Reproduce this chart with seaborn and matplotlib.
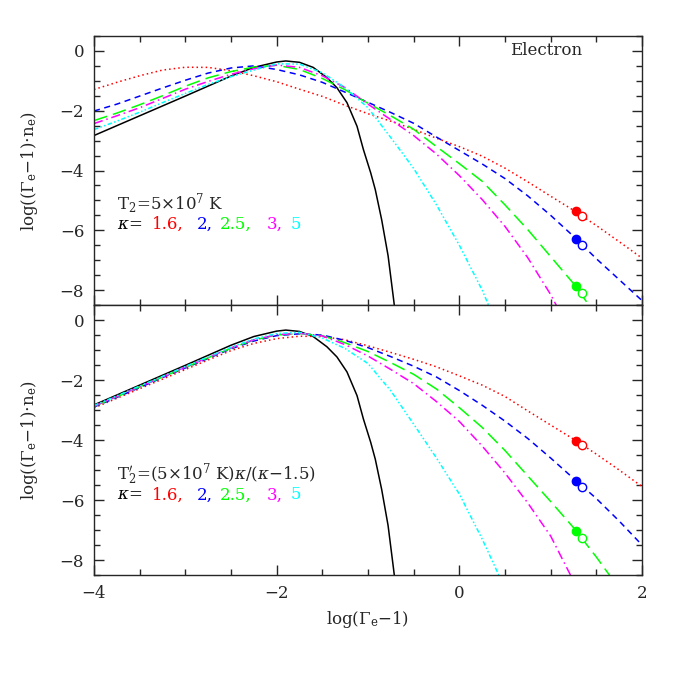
import matplotlib
matplotlib.use('Agg')
import matplotlib.pyplot as plt
import numpy as np
import pandas as pd
import seaborn as sns
from matplotlib.ticker import MultipleLocator

# x grid shared by the kappa curves (log(Gamma_e - 1))
grid_x = [-4, -3.75, -3.5, -3.25, -3, -2.75, -2.5, -2.25, -2, -1.75, -1.5, -1.25,
          -1, -0.75, -0.5, -0.25, 0, 0.25, 0.5, 0.75, 1, 1.25, 1.5, 1.75, 2]

# Maxwellian (same in both panels)
maxw_x = [-4, -3.5, -3, -2.5, -2.25, -2, -1.9, -1.75, -1.6, -1.45, -1.34, -1.23,
          -1.12, -1.05, -0.97, -0.92, -0.85, -0.78, -0.72, -0.68]
maxw_y = [-2.83, -2.17, -1.51, -0.84, -0.55, -0.37, -0.335, -0.38, -0.55, -0.89, -1.23, -1.73,
          -2.52, -3.3, -4.08, -4.64, -5.65, -6.85, -8.3, -9.3]

# top panel: T2 = 5e7 K
top_red = [-1.29, -1.05, -0.83, -0.64, -0.545, -0.55, -0.66, -0.83, -1.03, -1.28, -1.52, -1.82,
           -2.1, -2.35, -2.62, -2.92, -3.2, -3.52, -3.92, -4.38, -4.86, -5.33, -5.84, -6.38, -6.93]
top_blue = [-2.01, -1.78, -1.51, -1.24, -0.98, -0.74, -0.57, -0.5, -0.62, -0.8, -1.05, -1.38,
            -1.72, -2.06, -2.42, -2.88, -3.33, -3.78, -4.27, -4.85, -5.5, -6.2, -6.95, -7.65, -8.35]
top_green = [-2.33, -2.08, -1.8, -1.5, -1.18, -0.9, -0.69, -0.54, -0.48, -0.62, -0.92, -1.3,
             -1.75, -2.17, -2.62, -3.2, -3.77, -4.36, -5.15, -5.98, -6.88, -7.78, -8.85]
top_magenta = [-2.43, -2.17, -1.9, -1.59, -1.28, -1.02, -0.78, -0.6, -0.47, -0.55, -0.83, -1.23,
               -1.78, -2.3, -2.83, -3.45, -4.17, -4.97, -5.87, -6.92, -8.15, -9.6]
top_cyan = [-2.63, -2.35, -2.05, -1.73, -1.42, -1.12, -0.86, -0.64, -0.43, -0.44, -0.73, -1.23,
            -1.9, -2.9, -3.93, -5.15, -6.5, -8.0, -9.8]

# bottom panel: T2' = (5e7 K) kappa/(kappa-1.5)
bot_red = [-2.93, -2.61, -2.29, -1.97, -1.65, -1.33, -1.02, -0.78, -0.62, -0.54, -0.55, -0.66,
           -0.86, -1.08, -1.31, -1.56, -1.86, -2.17, -2.55, -3.03, -3.5, -3.97, -4.47, -5.0, -5.55]
bot_blue = [-2.9, -2.58, -2.25, -1.92, -1.6, -1.28, -0.96, -0.7, -0.52, -0.46, -0.5, -0.68,
            -0.92, -1.22, -1.54, -1.9, -2.35, -2.84, -3.37, -3.95, -4.6, -5.28, -5.95, -6.7, -7.5]
bot_green = [-2.88, -2.56, -2.23, -1.9, -1.58, -1.26, -0.94, -0.67, -0.5, -0.45, -0.52, -0.76,
             -1.05, -1.42, -1.81, -2.3, -2.92, -3.58, -4.35, -5.2, -6.05, -6.92, -7.9, -8.95]
bot_magenta = [-2.87, -2.55, -2.22, -1.9, -1.57, -1.25, -0.93, -0.66, -0.49, -0.44, -0.53, -0.82,
               -1.2, -1.65, -2.12, -2.72, -3.38, -4.2, -5.1, -6.1, -7.2, -8.7]
bot_cyan = [-2.85, -2.53, -2.2, -1.88, -1.55, -1.23, -0.91, -0.63, -0.45, -0.41, -0.6, -0.95,
            -1.45, -2.36, -3.47, -4.6, -5.8, -7.3, -8.95]

# marked points on kappa = 1.6, 2, 2.5 (filled and open)
dot_x_filled = 1.275
dot_x_open = 1.338
top_dots_filled = [-5.37, -6.29, -7.86]
top_dots_open = [-5.51, -6.48, -8.11]
bot_dots_filled = [-4.02, -5.36, -7.02]
bot_dots_open = [-4.18, -5.55, -7.26]

kappas = ['1.6', '2', '2.5', '3', '5']
order = ['Maxwell'] + kappas
palette = {'Maxwell': 'black', '1.6': 'red', '2': 'blue', '2.5': '#00ff00',
           '3': '#ff00ff', '5': '#00ffff'}
dashes = {'Maxwell': '', '1.6': (1, 2), '2': (4, 3), '2.5': (9, 4),
          '3': (6, 2.5, 1, 2.5), '5': (3, 1.5, 1, 1.5, 1, 1.5)}


def make_frame(curves):
    rows = []
    for name, ys in curves.items():
        xs = maxw_x if name == 'Maxwell' else grid_x
        for xv, yv in zip(xs, ys):
            rows.append([name, xv, yv])
    return pd.DataFrame(rows, columns=['curve', 'x', 'y'])


sns.set_style('ticks')
plt.rcParams['font.family'] = ['DejaVu Serif']
plt.rcParams['mathtext.fontset'] = 'dejavuserif'
plt.rcParams['axes.linewidth'] = 1.0

fig = plt.figure(figsize=(6.78, 6.78), dpi=100)
ax_top = fig.add_axes([0.1386, 0.5501, 0.8083, 0.3968])
ax_bot = fig.add_axes([0.1386, 0.1519, 0.8083, 0.3982])

panels = [
    (ax_top, {'Maxwell': maxw_y, '1.6': top_red, '2': top_blue, '2.5': top_green,
              '3': top_magenta, '5': top_cyan}, top_dots_filled, top_dots_open),
    (ax_bot, {'Maxwell': maxw_y, '1.6': bot_red, '2': bot_blue, '2.5': bot_green,
              '3': bot_magenta, '5': bot_cyan}, bot_dots_filled, bot_dots_open),
]

ylab = r'log(($\Gamma_{\rm e}$$-$1)$\cdot$n$_{\rm e}$)'
for ax, curves, dfill, dopen in panels:
    df = make_frame(curves)
    sns.lineplot(data=df, x='x', y='y', hue='curve', style='curve', hue_order=order,
                 style_order=order, palette=palette, dashes=dashes, legend=False,
                 sort=False, estimator=None, lw=1.1, ax=ax)
    for c, yf, yo in zip(['red', 'blue', '#00ff00'], dfill, dopen):
        ax.plot(dot_x_filled, yf, 'o', color=c, ms=6, zorder=5)
        ax.plot(dot_x_open, yo, 'o', mfc='white', mec=c, mew=1.0, ms=6, zorder=5)
    ax.set_xlim(-4, 2)
    ax.set_ylim(-8.5, 0.5)
    ax.xaxis.set_major_locator(MultipleLocator(2))
    ax.xaxis.set_minor_locator(MultipleLocator(0.5))
    ax.yaxis.set_major_locator(MultipleLocator(2))
    ax.yaxis.set_minor_locator(MultipleLocator(0.5))
    ax.tick_params(which='both', direction='in', top=True, right=True, width=1.0,
                   labelsize=12, pad=7)
    ax.tick_params(which='major', length=7.5)
    ax.tick_params(which='minor', length=4)
    ax.set_ylabel(ylab, fontsize=12, labelpad=14)
    for s in ax.spines.values():
        s.set_linewidth(1.0)

ax_top.set_xlabel('')
ax_top.tick_params(labelbottom=False)
ax_bot.set_xlabel(r'log($\Gamma_{\rm e}$$-$1)', fontsize=12, labelpad=5)

ax_top.text(0.56, 0.0, 'Electron', fontsize=12, va='center', ha='left')
ax_top.text(-3.75, -5.1, r'T$_2$=5$\times$10$^7$ K', fontsize=12, va='center')
ax_bot.text(-3.75, -5.16, r'T$^\prime_2$=(5$\times$10$^7$ K)$\kappa$/($\kappa$$-$1.5)',
            fontsize=12, va='center')

row_x = [-3.75, -3.37, -2.875, -2.62, -2.105, -1.85]
row_txt = [r'$\kappa$=', '1.6,', '2,', '2.5,', '3,', '5']
row_col = ['black', 'red', 'blue', '#00ff00', '#ff00ff', '#00ffff']
for ax, yrow in [(ax_top, -5.8), (ax_bot, -5.83)]:
    for xv, t, c in zip(row_x, row_txt, row_col):
        ax.text(xv, yrow, t, color=c, fontsize=12, va='center')

fig.savefig('out.png', dpi=100)
